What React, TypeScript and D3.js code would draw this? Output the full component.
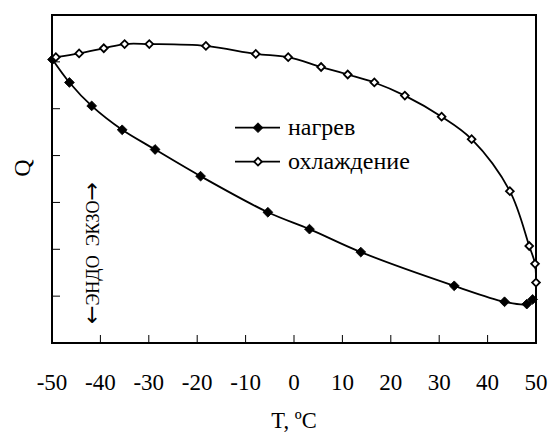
import React from "react";
import * as d3 from "d3";

const heatT = [-49.9, -46.4, -41.8, -35.5, -28.7, -19.3, -5.4, 3.2, 13.8, 33.1, 43.5, 48.1, 49.3];
const heatQ = [6.05, 5.56, 5.06, 4.55, 4.13, 3.56, 2.79, 2.43, 1.94, 1.22, 0.88, 0.83, 0.93];

const coolT = [50.0, 49.8, 48.6, 44.6, 36.7, 30.5, 22.9, 16.6, 11.1, 5.6, -1.2, -7.9, -18.2, -29.9, -35.0, -39.3, -44.4, -49.2];
const coolQ = [1.29, 1.69, 2.07, 3.24, 4.35, 4.83, 5.28, 5.56, 5.73, 5.89, 6.1, 6.17, 6.34, 6.38, 6.38, 6.29, 6.18, 6.1];

const xTicks = [-50, -40, -30, -20, -10, 0, 10, 20, 30, 40, 50];
const yTicks = [1, 2, 3, 4, 5, 6];

const seriesNames = ["нагрев", "охлаждение"];
const xTitle = "T, ºC";
const yTitle = "Q";
const noteLeft = "←";
const noteText = "ЭНДО  ЭКЗО";
const noteRight = "→";

const W = 551;
const H = 434;
const L = 52, R = 536, T = 15, B = 343;
const FONT = "Liberation Serif";

export default function App() {
  const x = d3.scaleLinear().domain([-50, 50]).range([L, R]);
  const y = d3.scaleLinear().domain([0, 7]).range([B, T]);

  const line = d3
    .line<[number, number]>()
    .x((d) => x(d[0]))
    .y((d) => y(d[1]))
    .curve(d3.curveCatmullRom.alpha(0.5));

  const heat: [number, number][] = heatT.map((t, i) => [t, heatQ[i]]);
  const cool: [number, number][] = coolT.map((t, i) => [t, coolQ[i]]);

  const diamond = d3.symbol().type(d3.symbolSquare).size(48)();
  const diamondOpen = d3.symbol().type(d3.symbolSquare).size(30)();

  const marker = (cx: number, cy: number, filled: boolean, key: any) =>
    filled ? (
      <path key={key} d={diamond as string} transform={`translate(${cx},${cy}) rotate(45)`} fill="#000" stroke="#000" strokeWidth={0.8} />
    ) : (
      <path key={key} d={diamondOpen as string} transform={`translate(${cx},${cy}) rotate(45)`} fill="#fff" stroke="#000" strokeWidth={1.8} />
    );

  const legendY = [127.7, 161.7];
  const ts = { fontFamily: FONT };

  return (
    <svg width={W} height={H} style={{ position: "absolute", left: 0, top: 0, background: "#fff", fontFamily: FONT }}>
      <rect x={0} y={0} width={W} height={H} fill="#fff" />
      {yTicks.map((v) => (
        <line key={"yt" + v} x1={L} x2={L + 8} y1={y(v)} y2={y(v)} stroke="#000" strokeWidth={1} />
      ))}
      {xTicks.map((v) => (
        <line key={"xt" + v} x1={x(v)} x2={x(v)} y1={B} y2={B - 8} stroke="#000" strokeWidth={1} />
      ))}
      <rect x={L} y={T} width={R - L} height={B - T} fill="none" stroke="#000" strokeWidth={2} />

      <path d={line(heat) as string} fill="none" stroke="#000" strokeWidth={1.8} />
      <path d={line(cool) as string} fill="none" stroke="#000" strokeWidth={1.8} />
      {heat.map((d, i) => marker(x(d[0]), y(d[1]), true, "h" + i))}
      {cool.map((d, i) => marker(x(d[0]), y(d[1]), false, "c" + i))}

      {seriesNames.map((name, i) => (
        <g key={name}>
          <line x1={235} x2={280} y1={legendY[i]} y2={legendY[i]} stroke="#000" strokeWidth={1.8} />
          {marker(258, legendY[i], i === 0, "lm" + i)}
          <text x={288} y={legendY[i] + 7.5} fontSize={24} fill="#000" style={ts}>
            {name}
          </text>
        </g>
      ))}

      {xTicks.map((v) => (
        <text key={"xl" + v} x={x(v)} y={389.5} fontSize={23} textAnchor="middle" fill="#000" style={ts}>
          {v < 0 ? "-" + Math.abs(v) : String(v)}
        </text>
      ))}
      <text x={(L + R) / 2} y={428} fontSize={22.5} textAnchor="middle" fill="#000" style={ts}>
        {xTitle}
      </text>
      <text transform={`translate(30,168) rotate(-90)`} fontSize={24} textAnchor="middle" fill="#000" style={ts}>
        {yTitle}
      </text>
      <text transform={`translate(99,253) rotate(-90)`} fontSize={18} textAnchor="middle" fill="#000" style={{ ...ts, whiteSpace: "pre" }}>
        <tspan style={{ fontFamily: "DejaVu Sans" }} fontSize={22}>{noteLeft}</tspan>
        <tspan>{noteText}</tspan>
        <tspan style={{ fontFamily: "DejaVu Sans" }} fontSize={22}>{noteRight}</tspan>
      </text>
    </svg>
  );
}
